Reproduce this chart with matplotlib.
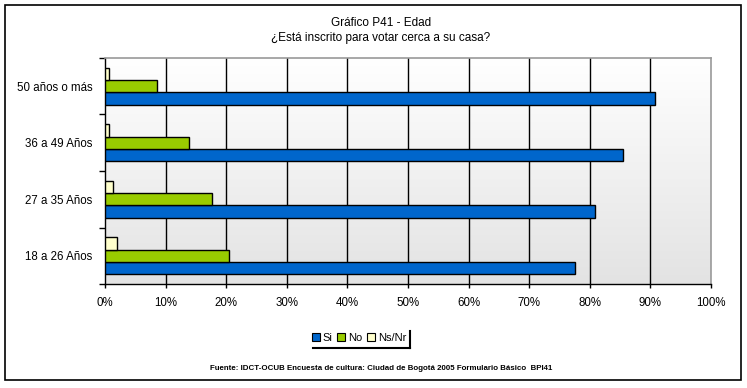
import numpy as np
import matplotlib.pyplot as plt
from matplotlib.lines import Line2D
from matplotlib.patches import Rectangle

plt.rcParams['font.family'] = ['Liberation Sans', 'DejaVu Sans']

# data (percent)
categories = ["18 a 26 Años", "27 a 35 Años", "36 a 49 Años", "50 años o más"]
si = [77.6, 80.9, 85.5, 90.7]
no = [20.5, 17.7, 13.9, 8.6]
nsnr = [1.9, 1.4, 0.6, 0.7]
series_names = ["Si", "No", "Ns/Nr"]
colors = ["#0066CC", "#99CC00", "#FFFFCC"]

W, H = 747, 388
fig = plt.figure(figsize=(W / 100, H / 100), dpi=100)
fig.patch.set_facecolor("white")

ax = fig.add_axes([105 / W, 1 - 284 / H, (711 - 105) / W, (284 - 58) / H])

# gradient background of plot area
grad = np.linspace(0, 1, 256).reshape(-1, 1)
ax.imshow(grad, extent=[0, 1, 0, 1], transform=ax.transAxes, aspect="auto",
          cmap=plt.matplotlib.colors.LinearSegmentedColormap.from_list(
              "bg", ["#ffffff", "#e3e3e3"]), zorder=0)

y = np.arange(len(categories))
h = 0.22
for offset, vals, col, name in zip([-h, 0, h], [si, no, nsnr], colors, series_names):
    ax.barh(y + offset, vals, height=h, color=col, edgecolor="black",
            linewidth=1, label=name, zorder=3)

ax.set_xlim(0, 100)
ax.set_ylim(-0.5, len(categories) - 0.5)

for v in range(10, 100, 10):
    ax.axvline(v, color="black", lw=1, zorder=1)

ax.set_xticks(range(0, 101, 10))
ax.set_xticklabels([f"{v}%" for v in range(0, 101, 10)], fontsize=8.3)
ax.tick_params(axis="x", direction="out", length=3, width=1, pad=6, colors="black")

ax.set_yticks(np.arange(-0.5, len(categories), 1))
ax.set_yticklabels([])
ax.set_yticks(y, minor=True)
ax.set_yticklabels(categories, minor=True, fontsize=8.3)
ax.tick_params(axis="y", which="major", direction="out", length=4, width=1)
ax.tick_params(axis="y", which="minor", length=0, pad=9)

for s in ["left", "bottom"]:
    ax.spines[s].set_color("black")
    ax.spines[s].set_linewidth(1)
for s in ["top", "right"]:
    ax.spines[s].set_color("#999999")
    ax.spines[s].set_linewidth(1.2)

# titles
fig.text(381 / W, 1 - 23 / H, "Gráfico P41 - Edad", ha="center", va="center", fontsize=8.5)
fig.text(381 / W, 1 - 38 / H, "¿Está inscrito para votar cerca a su casa?",
         ha="center", va="center", fontsize=8.5)

# legend
handles = [Rectangle((0, 0), 1, 1, facecolor=c, edgecolor="black", lw=0.8) for c in colors]
fig.legend(handles, series_names, loc="center", bbox_to_anchor=(359 / W, 1 - 338 / H),
           ncol=3, frameon=False, fontsize=8, handlelength=0.7, handleheight=0.7,
           handletextpad=0.25, columnspacing=0.45, borderpad=0)
fig.add_artist(Line2D([410 / W, 410 / W], [1 - 331 / H, 1 - 348 / H], color="black", lw=1.5))
fig.add_artist(Line2D([313 / W, 410 / W], [1 - 348 / H, 1 - 348 / H], color="black", lw=1.5))

# source
fig.text(381 / W, 1 - 369 / H,
         "Fuente: IDCT-OCUB Encuesta de cultura: Ciudad de Bogotá 2005 Formulario Básico  BPI41",
         ha="center", va="center", fontsize=5.7, fontweight="bold")

# outer border
fig.add_artist(Rectangle((5 / W, 1 - 380 / H), (741 - 5) / W, (380 - 5) / H,
                         transform=fig.transFigure, fill=False, edgecolor="black", lw=1.2))

fig.savefig("out.png", dpi=100)
